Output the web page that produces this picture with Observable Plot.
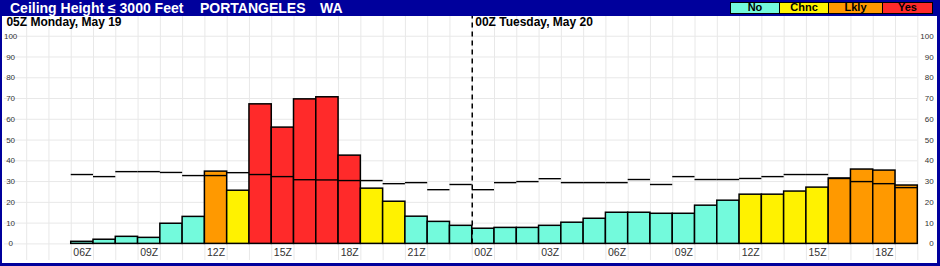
<!DOCTYPE html>
<html>
<head>
<meta charset="utf-8">
<script src="https://cdn.jsdelivr.net/npm/d3@7"></script>
<script src="https://cdn.jsdelivr.net/npm/@observablehq/plot@0.6"></script>
<style>
  body { margin: 0; background: #fff; }
  #wrap { position: relative; width: 940px; height: 266px; background: #00009c; overflow: hidden;
          font-family: Arial, "Liberation Sans", sans-serif; }
  .t { position: absolute; top: 0; color: #fff; font-weight: bold; font-size: 14px; line-height: 16px; white-space: nowrap; }
  #legend { position: absolute; top: 2px; left: 731px; display: flex; }
  .lg { box-sizing: border-box; border: 1px solid #000; height: 12px; font-size: 11px; font-weight: bold;
        text-align: center; line-height: 9.5px; color: #000; margin-left: -1px; }
  #plot { position: absolute; left: 2px; top: 16px; width: 935px; height: 247px; background: #fff; }
</style>
</head>
<body>
<div id="wrap">
  <div class="t" style="left:10px">Ceiling Height ≤ 3000 Feet</div>
  <div class="t" style="left:200px">PORTANGELES</div>
  <div class="t" style="left:320px">WA</div>
  <div id="legend"></div>
  <div id="plot"></div>
</div>
<script>
// ---- data ----
const hours = d3.range(6, 44); // 06Z Mon .. 19Z Tue (hour index from 00Z Mon)
const prob = [1, 2, 3.4, 2.9, 9.7, 13, 34.8, 25.6, 67.2, 56, 69.6, 70.6, 42.5, 26.6, 20.3, 13.1, 10.6, 8.7,
              7.3, 7.7, 7.7, 8.7, 10.2, 12.1, 15.0, 15.0, 14.5, 14.5, 18.4, 20.8, 23.7, 23.7, 25.2, 27.1, 31.5, 35.8, 35.3, 28.1];
const clim = [33.4, 32.4, 34.8, 34.8, 34.4, 32.9, 32.9, 34.3, 33.4, 32.4, 30.9, 30.8, 30.5, 30.5, 29.0, 29.5, 26.1, 28.6,
              26.1, 29.5, 30.0, 31.4, 29.5, 29.5, 29.5, 31.0, 28.6, 32.4, 31.0, 31.0, 31.5, 32.4, 33.4, 33.4, 31.5, 30.0, 29.0, 27.1];
const cats = ["No","No","No","No","No","No","Lkly","Chnc","Yes","Yes","Yes","Yes","Yes","Chnc","Chnc","No","No","No",
              "No","No","No","No","No","No","No","No","No","No","No","No","Chnc","Chnc","Chnc","Chnc","Lkly","Lkly","Lkly","Lkly"];
const catNames = ["No", "Chnc", "Lkly", "Yes"];
const catColors = ["#73fadc", "#fff200", "#ff9900", "#ff2a2a"];
const tickHours = [6, 9, 12, 15, 18, 21, 24, 27, 30, 33, 36, 39, 42];
const tickLabels = ["06Z","09Z","12Z","15Z","18Z","21Z","00Z","03Z","06Z","09Z","12Z","15Z","18Z"];
const dayLabels = ["05Z Monday, May 19", "00Z Tuesday, May 20"];
const dayStartHour = 24;
const yTicks = [0, 10, 20, 30, 40, 50, 60, 70, 80, 90, 100];
const xDomain = [3, 44];
const yDomain = [-8, 109.5];

// ---- legend ----
const legendWidths = [50, 50, 55, 51];
const legend = document.getElementById("legend");
catNames.forEach((n, i) => {
  const d = document.createElement("div");
  d.className = "lg";
  d.style.width = legendWidths[i] + "px";
  d.style.background = catColors[i];
  d.textContent = n;
  legend.appendChild(d);
});

// ---- chart ----
const data = hours.map((h, i) => ({h, p: prob[i], c: clim[i], cat: cats[i]}));
const ticks = tickHours.map((h, i) => ({h, label: tickLabels[i]}));
const font = "Arial, 'Liberation Sans', sans-serif";

const chart = Plot.plot({
  width: 935, height: 247,
  marginLeft: 1.9, marginRight: 19.7, marginTop: 0, marginBottom: 3,
  x: {domain: xDomain, axis: null},
  y: {domain: yDomain, axis: null},
  color: {domain: catNames, range: catColors},
  style: {fontFamily: font, background: "#fff", overflow: "visible"},
  marks: [
    Plot.ruleY(yTicks, {stroke: "#e8e8e8", strokeWidth: 1}),
    Plot.ruleX(d3.range(4, 45), {stroke: "#e8e8e8", strokeWidth: 1}),
    Plot.rect(data, {x1: "h", x2: d => d.h + 1, y1: 0, y2: "p", fill: "cat", stroke: "#000", strokeWidth: 1.5}),
    Plot.ruleY(data, {x1: "h", x2: d => d.h + 1, y: "c", stroke: "#000", strokeWidth: 1.4}),
    Plot.ruleX([dayStartHour], {y1: 0, y2: yDomain[1], stroke: "#000", strokeWidth: 1.5, strokeDasharray: "5,4"}),
    Plot.text(yTicks, {y: d => d, text: d => String(d), frameAnchor: "left", dx: 6.2, textAnchor: "middle",
                       fontSize: 8, fill: "#333"}),
    Plot.text(yTicks, {y: d => d, text: d => String(d), frameAnchor: "right", dx: 15.8, textAnchor: "end",
                       fontSize: 8, fill: "#333"}),
    Plot.text(ticks, {x: d => d.h + 0.5, text: "label", frameAnchor: "bottom", dy: -4.5,
                      fontSize: 10.5, fill: "#333"}),
    Plot.text([dayLabels[0]], {frameAnchor: "top-left", text: d => d, textAnchor: "start", lineAnchor: "top",
                               dx: 2, dy: 1, fontSize: 12, fontWeight: "bold", fill: "#000"}),
    Plot.text([dayLabels[1]], {x: dayStartHour, frameAnchor: "top", text: d => d, textAnchor: "start", lineAnchor: "top",
                               dx: 3, dy: 1, fontSize: 12, fontWeight: "bold", fill: "#000"})
  ]
});
document.getElementById("plot").appendChild(chart);
</script>
</body>
</html>
